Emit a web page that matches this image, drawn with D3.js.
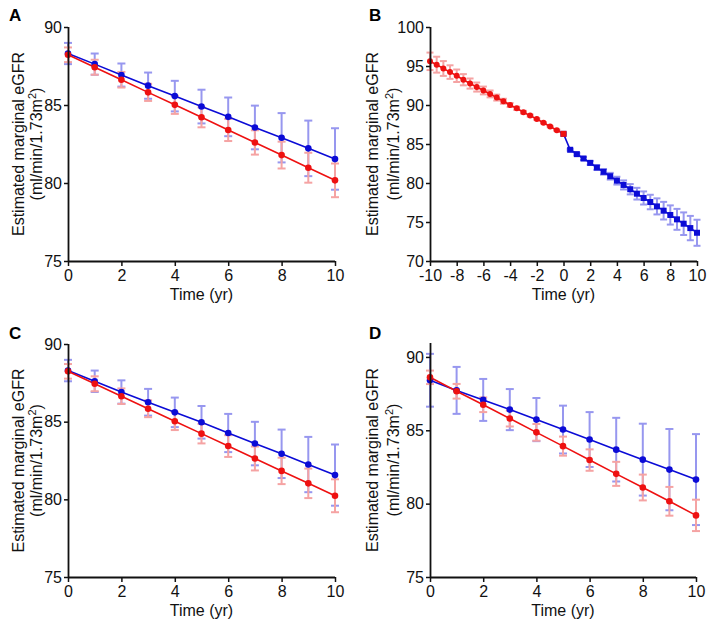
<!DOCTYPE html>
<html><head><meta charset="utf-8">
<script src="https://cdn.jsdelivr.net/npm/d3@7"></script>
<style>body{margin:0;background:#fff}svg{display:block}text{font-family:"Liberation Sans",Arial,sans-serif}</style>
</head><body>
<svg id="chart" width="718" height="638"></svg>
<script>
// ---- data ----
const yearsA = [0,1,2,3,4,5,6,7,8,9,10];
const aBlue = [88.30,87.62,86.92,86.24,85.57,84.90,84.24,83.56,82.90,82.22,81.54];
const aBlueErr = [0.68,0.68,0.74,0.84,0.98,1.08,1.24,1.40,1.58,1.78,1.97];
const aRed = [88.22,87.42,86.62,85.81,85.01,84.21,83.40,82.60,81.79,80.98,80.17];
const aRedErr = [0.47,0.48,0.50,0.55,0.58,0.64,0.71,0.78,0.86,0.96,1.08];

const cBlue = [88.29,87.60,86.91,86.25,85.60,84.96,84.27,83.59,82.93,82.24,81.56];
const cBlueErr = [0.69,0.69,0.75,0.86,0.95,1.05,1.23,1.40,1.56,1.78,1.97];
const cRed = [88.24,87.44,86.64,85.83,85.03,84.23,83.43,82.63,81.83,81.03,80.23];
const cRedErr = [0.47,0.48,0.50,0.54,0.57,0.63,0.70,0.77,0.85,0.95,1.06];

const dBlue = [88.41,87.72,87.07,86.41,85.73,85.05,84.37,83.68,83.00,82.32,81.64];
const dBlueErr = [1.80,1.60,1.43,1.40,1.47,1.63,1.87,2.17,2.45,2.77,3.10];
const dRed = [88.61,87.66,86.74,85.80,84.86,83.92,82.97,82.03,81.10,80.16,79.20];
const dRedErr = [0.46,0.50,0.50,0.54,0.57,0.65,0.73,0.82,0.88,0.98,1.07];

const bRedYears = [-10,-9.5,-9,-8.5,-8,-7.5,-7,-6.5,-6,-5.5,-5,-4.5,-4,-3.5,-3,-2.5,-2,-1.5,-1,-0.5,0];
const bRed = [95.60,95.17,94.68,94.22,93.75,93.24,92.75,92.30,91.86,91.42,90.95,90.48,90.00,89.57,89.08,88.64,88.20,87.72,87.24,86.76,86.30];
const bRedErr = [1.12,1.02,0.95,0.87,0.80,0.72,0.65,0.58,0.50,0.44,0.38,0.32,0.26,0.21,0.17,0.13,0.10,0.08,0.08,0.08,0.10];
const bBlueYears = [0,0.5,1,1.5,2,2.5,3,3.5,4,4.5,5,5.5,6,6.5,7,7.5,8,8.5,9,9.5,10];
const bBlue = [86.30,84.26,83.70,83.14,82.58,81.98,81.43,80.87,80.30,79.75,79.20,78.63,78.08,77.56,77.00,76.45,75.90,75.34,74.78,74.22,73.62];
const bBlueErr = [0,0.12,0.15,0.20,0.25,0.30,0.36,0.43,0.50,0.58,0.66,0.75,0.84,0.93,1.03,1.13,1.23,1.34,1.45,1.56,1.67];

const ticksX10 = [0,2,4,6,8,10];
const ticksXB = [-10,-8,-6,-4,-2,0,2,4,6,8,10];
const ticksY75 = [75,80,85,90];
const ticksYB = [70,75,80,85,90,95,100];
const panelLetters = ["A","B","C","D"];
const xTitle = "Time (yr)";
const yTitle1 = "Estimated marginal eGFR";

// ---- styles ----
const RED = "#ee1111", BLUE = "#0b0bd6", PINK = "#f5a3a3", LBLUE = "#9797ef";
const FS = "16px";
const svg = d3.select("#chart");

function zip(xs, ys, es){ return xs.map((x,i)=>({x, y:ys[i], e:es[i]})); }

function panel(o){
  const g = svg.append("g");
  const x = d3.scaleLinear().domain(o.xDomain).range([o.left, o.right]);
  const y = d3.scaleLinear().domain(o.yDomain).range([o.bottom, o.top]);

  // error bars (blue first, red on top)
  o.series.forEach(s=>{
    const eg = g.append("g").attr("stroke", s.errColor).attr("stroke-width", 2).attr("fill","none");
    s.data.filter(d=>d.e>0).forEach(d=>{
      const y1 = y(d.y + d.e), y0 = y(d.y - d.e);
      eg.append("line").attr("x1", x(d.x)).attr("x2", x(d.x)).attr("y1", y1).attr("y2", y0);
      eg.append("line").attr("x1", x(d.x)-o.cap).attr("x2", x(d.x)+o.cap).attr("y1", y1).attr("y2", y1);
      eg.append("line").attr("x1", x(d.x)-o.cap).attr("x2", x(d.x)+o.cap).attr("y1", y0).attr("y2", y0);
    });
  });
  // lines
  o.series.forEach(s=>{
    g.append("path").datum(s.data)
      .attr("d", d3.line().x(d=>x(d.x)).y(d=>y(d.y)))
      .attr("fill","none").attr("stroke", s.color).attr("stroke-width", 1.6);
  });
  // markers
  o.series.forEach(s=>{
    s.data.forEach(d=>{
      const shape = s.shapeAt ? s.shapeAt(d) : s.shape;
      if (shape === "square") {
        g.append("rect").attr("x", x(d.x)-o.sq/2).attr("y", y(d.y)-o.sq/2)
          .attr("width", o.sq).attr("height", o.sq).attr("fill", s.color);
      } else {
        g.append("circle").attr("cx", x(d.x)).attr("cy", y(d.y)).attr("r", o.r).attr("fill", s.color);
      }
    });
  });

  // axes
  const xa = g.append("g").attr("transform", `translate(0,${o.bottom})`)
    .call(d3.axisBottom(x).tickValues(o.xTicks).tickSize(5).tickPadding(4).tickFormat(d=>String(d)));
  const ya = g.append("g").attr("transform", `translate(${o.left},0)`)
    .call(d3.axisLeft(y).tickValues(o.yTicks).tickSize(4).tickPadding(2).tickFormat(d=>String(d)));
  [xa, ya].forEach(a=>{
    a.select(".domain").attr("stroke","#111").attr("stroke-width",1.8);
    a.selectAll(".tick line").attr("stroke","#111").attr("stroke-width",1.5);
    a.selectAll(".tick text").attr("fill","#111").style("font-size",FS)
      .style("font-family",'"Liberation Sans",Arial,sans-serif');
  });
  ya.select(".domain").attr("d", `M0.5,${o.bottom}V${o.top}`);
  xa.select(".domain").attr("d", `M${o.left},0.5H${o.right}`);

  // titles
  g.append("text").attr("x", (o.left+o.right)/2).attr("y", o.bottom+39)
    .attr("text-anchor","middle").style("font-size",FS).attr("fill","#111").text(xTitle);
  const cy = (o.top+o.bottom)/2;
  g.append("text").attr("transform", `translate(${o.left-o.t1},${cy}) rotate(-90)`)
    .attr("text-anchor","middle").style("font-size",FS).attr("fill","#111").text(yTitle1);
  const t2 = g.append("text").attr("transform", `translate(${o.left-o.t2},${cy}) rotate(-90)`)
    .attr("text-anchor","middle").style("font-size",FS).attr("fill","#111");
  t2.append("tspan").text("(ml/min/1.73m");
  t2.append("tspan").attr("dy",-6).style("font-size","11px").text("2");
  t2.append("tspan").attr("dy",6).text(")");

  // panel letter
  g.append("text").attr("x", o.lx).attr("y", o.ly).style("font-size","17px")
    .style("font-weight","bold").attr("fill","#000").text(o.letter);
}

panel({letter: panelLetters[0], lx: 9, ly: 21,
  left: 68, right: 335, top: 27, bottom: 261, xDomain:[0,10], yDomain:[75,90],
  xTicks: ticksX10, yTicks: ticksY75, r: 3.3, sq: 6, cap: 4, t1: 44, t2: 26,
  series: [
    {color: BLUE, errColor: LBLUE, shape:"circle", data: zip(yearsA, aBlue, aBlueErr)},
    {color: RED, errColor: PINK, shape:"circle", data: zip(yearsA, aRed, aRedErr)}
  ]});

panel({letter: panelLetters[1], lx: 369, ly: 21,
  left: 430, right: 697, top: 27, bottom: 261, xDomain:[-10,10], yDomain:[70,100],
  xTicks: ticksXB, yTicks: ticksYB, r: 3.0, sq: 6, cap: 3.5, t1: 52, t2: 31,
  series: [
    {color: BLUE, errColor: LBLUE, shape:"square", data: zip(bBlueYears, bBlue, bBlueErr)},
    {color: RED, errColor: PINK, shape:"circle", shapeAt: d => d.x === 0 ? "square" : "circle",
      data: zip(bRedYears, bRed, bRedErr)}
  ]});

panel({letter: panelLetters[2], lx: 9, ly: 339,
  left: 68, right: 335, top: 344, bottom: 577, xDomain:[0,10], yDomain:[75,90],
  xTicks: ticksX10, yTicks: ticksY75, r: 3.3, sq: 6, cap: 4, t1: 44, t2: 26,
  series: [
    {color: BLUE, errColor: LBLUE, shape:"circle", data: zip(yearsA, cBlue, cBlueErr)},
    {color: RED, errColor: PINK, shape:"circle", data: zip(yearsA, cRed, cRedErr)}
  ]});

panel({letter: panelLetters[3], lx: 369, ly: 339,
  left: 430, right: 696, top: 343, bottom: 577, xDomain:[0,10], yDomain:[75,90.95],
  xTicks: ticksX10, yTicks: ticksY75, r: 3.3, sq: 6, cap: 4, t1: 52, t2: 31,
  series: [
    {color: BLUE, errColor: LBLUE, shape:"circle", data: zip(yearsA, dBlue, dBlueErr)},
    {color: RED, errColor: PINK, shape:"circle", data: zip(yearsA, dRed, dRedErr)}
  ]});
</script>
</body></html>
